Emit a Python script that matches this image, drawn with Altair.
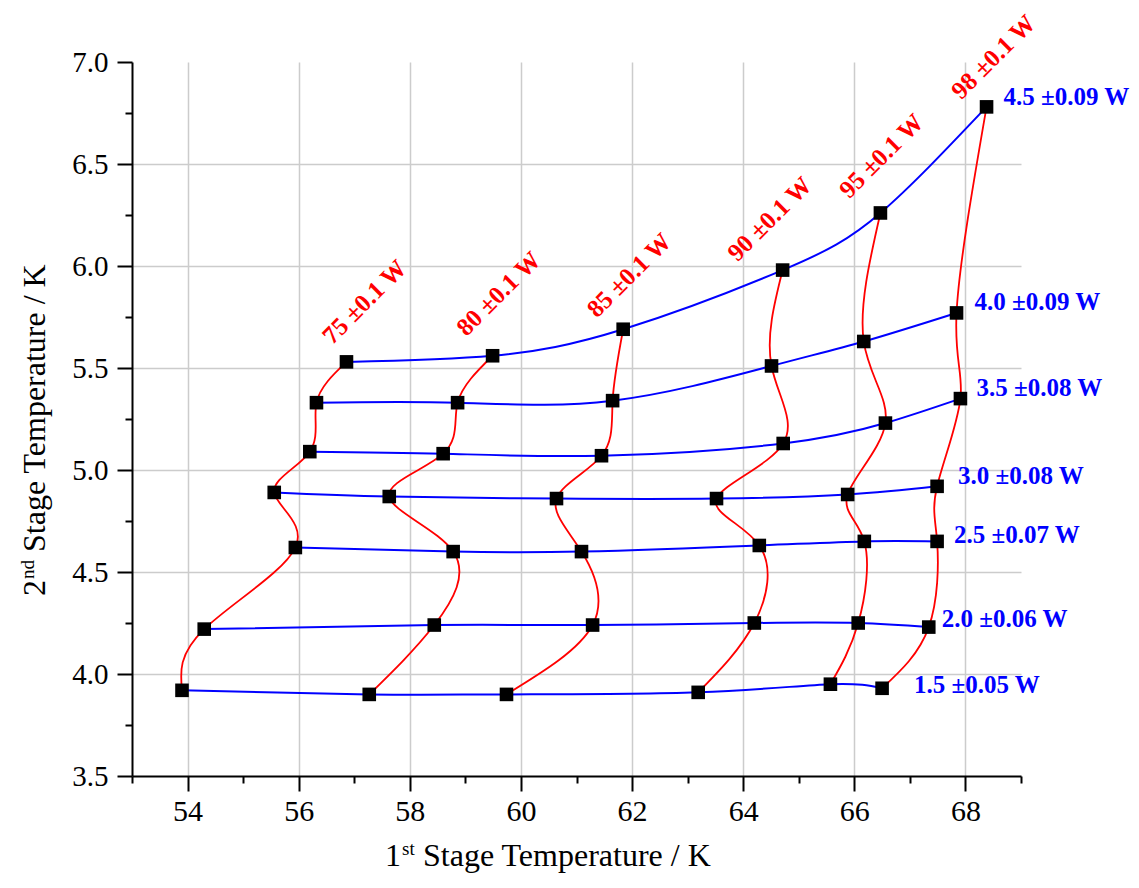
import altair as alt
import pandas as pd

# ---- data -------------------------------------------------------------
load_1st_labels = ["75 ±0.1 W", "80 ±0.1 W", "85 ±0.1 W", "90 ±0.1 W", "95 ±0.1 W", "98 ±0.1 W"]
load_2nd_labels = ["1.5 ±0.05 W", "2.0 ±0.06 W", "2.5 ±0.07 W", "3.0 ±0.08 W",
                   "3.5 ±0.08 W", "4.0 ±0.09 W", "4.5 ±0.09 W"]

# 1st-stage temperature (K); one list per 2nd-stage load, ordered 75 -> 98 W
t1_1p5 = [53.90, 57.27, 59.74, 63.19, 65.57, 66.50]
t1_2p0 = [54.30, 58.44, 61.29, 64.20, 66.07, 67.34]
t1_2p5 = [55.94, 58.78, 61.09, 64.29, 66.18, 67.49]
t1_3p0 = [55.56, 57.63, 60.64, 63.52, 65.88, 67.49]
t1_3p5 = [56.20, 58.60, 61.45, 64.72, 66.56, 67.91]
t1_4p0 = [56.32, 58.86, 61.65, 64.51, 66.17, 67.84]
t1_4p5 = [56.86, 59.49, 61.84, 64.71, 66.47, 68.38]

# 2nd-stage temperature (K)
t2_1p5 = [3.92, 3.90, 3.90, 3.91, 3.95, 3.93]
t2_2p0 = [4.22, 4.24, 4.24, 4.25, 4.25, 4.23]
t2_2p5 = [4.62, 4.60, 4.60, 4.63, 4.65, 4.65]
t2_3p0 = [4.89, 4.87, 4.86, 4.86, 4.88, 4.92]
t2_3p5 = [5.09, 5.08, 5.07, 5.13, 5.23, 5.35]
t2_4p0 = [5.33, 5.33, 5.34, 5.51, 5.63, 5.77]
t2_4p5 = [5.53, 5.56, 5.69, 5.98, 6.26, 6.78]

x_ticks = list(range(53, 70))
y_ticks = [3.5 + 0.25 * i for i in range(15)]

t1_rows = [t1_1p5, t1_2p0, t1_2p5, t1_3p0, t1_3p5, t1_4p0, t1_4p5]
t2_rows = [t2_1p5, t2_2p0, t2_2p5, t2_3p0, t2_3p5, t2_4p0, t2_4p5]

recs = []
for r, (a_row, b_row) in enumerate(zip(t1_rows, t2_rows)):
    for c, (a, b) in enumerate(zip(a_row, b_row)):
        recs.append({"row": r, "col": c, "t1": a, "t2": b})
df = pd.DataFrame(recs)

# ---- styling -----------------------------------------------------------
FONT = "Liberation Serif"
W, H = 889, 714

x_axis = alt.Axis(
    values=x_ticks, title=None,
    labelExpr="datum.value % 2 == 0 ? datum.label : ''",
    labelFont=FONT, labelFontSize=30, labelColor="black", labelPadding=5,
    labelFlush=False, labelOverlap=False,
    tickSize={"condition": {"test": "datum.value % 2 == 0", "value": 15}, "value": 7},
    tickColor="black", tickWidth=2,
    domainColor="black", domainWidth=2,
    grid=True, gridColor="#cccccc", gridWidth=1.5,
    gridOpacity={"condition": {"test": "datum.value % 2 == 0", "value": 1}, "value": 0},
)
major_y = "round(datum.value*2) == datum.value*2"
y_axis = alt.Axis(
    values=y_ticks, title=None,
    labelExpr=f"{major_y} ? format(datum.value, '.1f') : ''",
    labelFont=FONT, labelFontSize=29, labelColor="black", labelPadding=9,
    labelFlush=False, labelOverlap=False,
    tickSize={"condition": {"test": major_y, "value": 15}, "value": 7},
    tickColor="black", tickWidth=2,
    domainColor="black", domainWidth=2,
    grid=True, gridColor="#cccccc", gridWidth=1.5,
    gridOpacity={"condition": {"test": f"{major_y} && datum.value > 3.6 && datum.value < 6.9",
                               "value": 1}, "value": 0},
)

X = alt.X("t1:Q", scale=alt.Scale(domain=[53, 69], nice=False, zero=False), axis=x_axis)
Y = alt.Y("t2:Q", scale=alt.Scale(domain=[3.5, 7.0], nice=False, zero=False), axis=y_axis)

base = alt.Chart(df)
blue = base.mark_line(color="#0000ff", strokeWidth=2, interpolate="natural").encode(
    x=X, y=Y, detail="row:N", order="col:Q")
red = base.mark_line(color="#ff0000", strokeWidth=1.8, interpolate="natural").encode(
    x=X, y=Y, detail="col:N", order="row:Q")
pts = base.mark_square(size=185, color="black", opacity=1).encode(x=X, y=Y)

layers = [blue, red, pts]

# red labels (1st-stage loads), anchored to the top point of each column
red_off = [(18, -60), (6, -62), (6, -54), (-13, -51), (1, -57), (7, -50)]
for i, lab in enumerate(load_1st_labels):
    d = pd.DataFrame({"t1": [t1_4p5[i]], "t2": [t2_4p5[i]], "txt": [lab]})
    layers.append(alt.Chart(d).mark_text(
        angle=315, align="center", baseline="middle", font=FONT, fontSize=25,
        fontWeight="bold", color="#ff0000", xOffset=red_off[i][0], yOffset=red_off[i][1]
    ).encode(x=X, y=Y, text="txt:N"))

# blue labels (2nd-stage loads), anchored to the right-most point of each row
blue_off = [(32, -3), (13, -8), (17, -6), (21, -10), (16, -11), (18, -11), (17, -10)]
for r, lab in enumerate(load_2nd_labels):
    d = pd.DataFrame({"t1": [t1_rows[r][-1]], "t2": [t2_rows[r][-1]], "txt": [lab]})
    layers.append(alt.Chart(d).mark_text(
        align="left", baseline="middle", font=FONT, fontSize=25,
        fontWeight="bold", color="#0000ff", xOffset=blue_off[r][0], yOffset=blue_off[r][1]
    ).encode(x=X, y=Y, text="txt:N"))

# axis titles with superscripts
def ttext(s, x, y, size, angle=0):
    kw = dict(align="left", baseline="alphabetic", font=FONT, fontSize=size, color="black")
    if angle:
        kw["angle"] = angle
    return alt.Chart(pd.DataFrame({"s": [s]})).mark_text(**kw).encode(
        x=alt.value(x), y=alt.value(y), text="s:N")

XT0, XTY = 253, 804
layers += [
    ttext("1", XT0, XTY, 32),
    ttext("st", XT0 + 17, XTY - 11, 19),
    ttext("Stage Temperature / K", XT0 + 38, XTY, 32),
]
YTX, YT0 = -87, 534
layers += [
    ttext("2", YTX, YT0, 32, 270),
    ttext("nd", YTX - 11, YT0 - 17, 19, 270),
    ttext("Stage Temperature / K", YTX, YT0 - 44, 32, 270),
]

chart = alt.layer(*layers).properties(
    width=W, height=H,
    autosize=alt.AutoSizeParams(type="none"),
    padding={"left": 124, "top": 54, "right": 110, "bottom": 100},
).configure_view(stroke=None)

chart.save("out.html", embed_options={"renderer": "svg", "actions": False})
